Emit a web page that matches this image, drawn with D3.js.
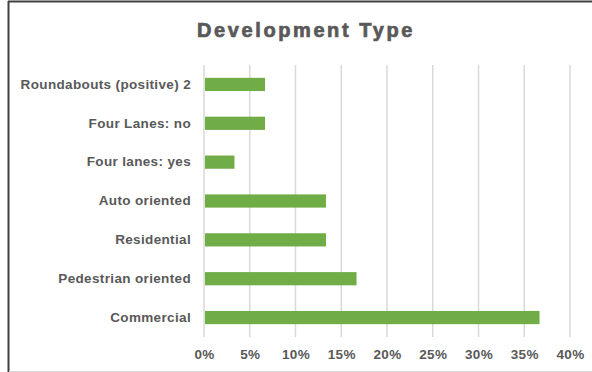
<!DOCTYPE html>
<html>
<head>
<meta charset="utf-8">
<script src="https://cdn.jsdelivr.net/npm/d3@7"></script>
<style>
  html, body { margin: 0; padding: 0; background: #fff; }
  svg { display: block; }
</style>
</head>
<body>
<script>
// Share of sites by development type
const categories = [
  "Roundabouts (positive) 2",
  "Four Lanes: no",
  "Four lanes: yes",
  "Auto oriented",
  "Residential",
  "Pedestrian oriented",
  "Commercial"
];
const values = [0.0667, 0.0667, 0.0333, 0.1333, 0.1333, 0.1667, 0.3667];
const tickValues = [0, 0.05, 0.10, 0.15, 0.20, 0.25, 0.30, 0.35, 0.40];
const title = "Development Type";

const W = 592, H = 372;
const margin = { top: 65, right: 22, bottom: 35, left: 204 };

const svg = d3.select("body").append("svg")
  .attr("width", W).attr("height", H);

// chart frame
svg.append("rect").attr("x", 0).attr("y", 0).attr("width", W).attr("height", H).attr("fill", "#fff");
svg.append("line").attr("x1", 8).attr("x2", W).attr("y1", 1.5).attr("y2", 1.5)
  .attr("stroke", "#404040").attr("stroke-width", 2);
svg.append("line").attr("x1", 8.5).attr("x2", 8.5).attr("y1", 1).attr("y2", H)
  .attr("stroke", "#404040").attr("stroke-width", 2);
svg.append("line").attr("x1", 9).attr("x2", W).attr("y1", 371.5).attr("y2", 371.5)
  .attr("stroke", "#d9d9d9").attr("stroke-width", 1);

const x = d3.scaleLinear().domain([0, 0.40]).range([margin.left, 570]);
const y = d3.scaleBand().domain(categories)
  .range([margin.top, H - margin.bottom]).paddingInner(0.66).paddingOuter(0.33);

// vertical gridlines
svg.append("g").selectAll("line").data(tickValues).join("line")
  .attr("x1", d => x(d)).attr("x2", d => x(d))
  .attr("y1", margin.top).attr("y2", H - margin.bottom)
  .attr("stroke", "#d9d9d9").attr("stroke-width", 1.5);

// bars
svg.append("g").selectAll("rect").data(categories).join("rect")
  .attr("x", x(0) + 1)
  .attr("y", d => y(d))
  .attr("width", (d, i) => x(values[i]) - x(0) - 1)
  .attr("height", y.bandwidth())
  .attr("fill", "#70ad47");

const labelStyle = sel => sel
  .attr("fill", "#595959")
  .style("font-family", "'Liberation Sans', Arial, sans-serif")
  .style("font-size", "13.5px")
  .style("font-weight", "bold")
  .style("letter-spacing", "0.35px");

// category axis labels
const yAxis = d3.axisLeft(y).tickSize(0).tickPadding(13);
const gy = svg.append("g").attr("transform", `translate(${margin.left},0)`).call(yAxis);
gy.select(".domain").remove();
gy.selectAll("text").call(labelStyle);

// value axis labels
const xAxis = d3.axisBottom(x).tickValues(tickValues).tickSize(0).tickPadding(12)
  .tickFormat(d3.format(".0%"));
const gx = svg.append("g").attr("transform", `translate(0,${H - margin.bottom})`).call(xAxis);
gx.select(".domain").remove();
gx.selectAll("text").call(labelStyle);

// title
svg.append("text")
  .attr("x", 306).attr("y", 37)
  .attr("text-anchor", "middle")
  .attr("fill", "#595959")
  .attr("stroke", "#595959").attr("stroke-width", 0.7)
  .style("font-family", "'Liberation Sans', Arial, sans-serif")
  .style("font-size", "20px")
  .style("font-weight", "bold")
  .style("letter-spacing", "2.6px")
  .text(title);
</script>
</body>
</html>
